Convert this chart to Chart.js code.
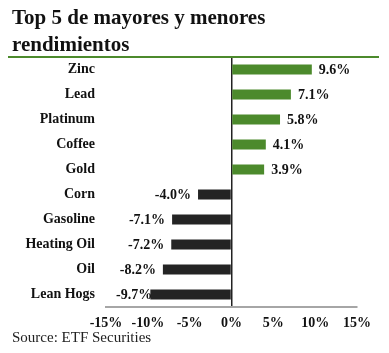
<!DOCTYPE html>
<html>
<head>
<meta charset="utf-8">
<script src="https://cdn.jsdelivr.net/npm/chart.js@4"></script>
<style>
  html, body { margin: 0; padding: 0; background: #fff; }
  #wrap { position: relative; width: 389px; height: 353px; overflow: hidden; }
  #titulo { position: absolute; left: 12px; top: 4px; font: bold 21px "Liberation Serif", serif; line-height: 27px; color: #111; }
  #regla { position: absolute; left: 8px; top: 56px; width: 371px; height: 2px; background: #4c8a2c; }
  #fuente { position: absolute; left: 12px; top: 329px; font: 15px "Liberation Serif", serif; color: #222; }
  canvas { position: absolute; left: 0; top: 0; }
</style>
</head>
<body>
<div id="wrap">
  <canvas id="chart" width="389" height="353"></canvas>
  <div id="titulo">Top 5 de mayores y menores<br>rendimientos</div>
  <div id="regla"></div>
  <div id="fuente">Source: ETF Securities</div>
</div>
<script>
// Top 5 de mayores y menores rendimientos (%)
const categorias = ['Zinc', 'Lead', 'Platinum', 'Coffee', 'Gold', 'Corn', 'Gasoline', 'Heating Oil', 'Oil', 'Lean Hogs'];
const rendimientos = [9.6, 7.1, 5.8, 4.1, 3.9, -4.0, -7.1, -7.2, -8.2, -9.7];
const ticksX = [-15, -10, -5, 0, 5, 10, 15];

const VERDE = '#4c8a2c';
const OSCURO = '#242424';
const FUENTE = '"Liberation Serif", serif';

// etiquetas de valor al final de cada barra
const etiquetasValor = {
  id: 'etiquetasValor',
  afterDatasetsDraw(chart) {
    const { ctx, chartArea } = chart;
    const meta = chart.getDatasetMeta(0);
    ctx.save();
    ctx.font = 'bold 14px ' + FUENTE;
    ctx.fillStyle = '#111';
    ctx.textBaseline = 'middle';
    meta.data.forEach((bar, i) => {
      const v = rendimientos[i];
      const txt = v.toFixed(1) + '%';
      if (v >= 0) {
        ctx.textAlign = 'left';
        ctx.fillText(txt, bar.x + 7, bar.y + 1);
      } else {
        // no pisar la zona de etiquetas del eje
        const w = ctx.measureText(txt).width;
        const x = Math.max(bar.x - 7, chartArea.left + 10 + w);
        ctx.textAlign = 'right';
        ctx.fillText(txt, x, bar.y + 1);
      }
    });
    ctx.restore();
  }
};

new Chart(document.getElementById('chart'), {
  type: 'bar',
  data: {
    labels: categorias,
    datasets: [{
      data: rendimientos,
      backgroundColor: rendimientos.map(v => v >= 0 ? VERDE : OSCURO),
      barPercentage: 0.8,
      categoryPercentage: 0.5
    }]
  },
  options: {
    indexAxis: 'y',
    responsive: false,
    animation: false,
    layout: { padding: { top: 57, right: 32, bottom: 26, left: 0 } },
    plugins: { legend: { display: false }, tooltip: { enabled: false } },
    scales: {
      x: {
        min: -15, max: 15,
        afterBuildTicks: s => { s.ticks = ticksX.map(v => ({ value: v })); },
        afterFit: s => { s.height = 20; },
        grid: {
          drawTicks: false,
          color: c => c.tick && c.tick.value === 0 ? '#222' : 'rgba(0,0,0,0)',
          lineWidth: 1.5
        },
        border: { display: true, color: '#a6a6a6', width: 2 },
        ticks: {
          padding: 8,
          color: '#111',
          font: { family: FUENTE, weight: 'bold', size: 14 },
          callback: v => v + '%'
        }
      },
      y: {
        afterFit: s => { s.width = 106; },
        grid: { display: false, drawTicks: false },
        border: { display: false },
        ticks: {
          padding: 11,
          color: '#111',
          font: { family: FUENTE, weight: 'bold', size: 14 }
        }
      }
    }
  },
  plugins: [etiquetasValor]
});
</script>
</body>
</html>
